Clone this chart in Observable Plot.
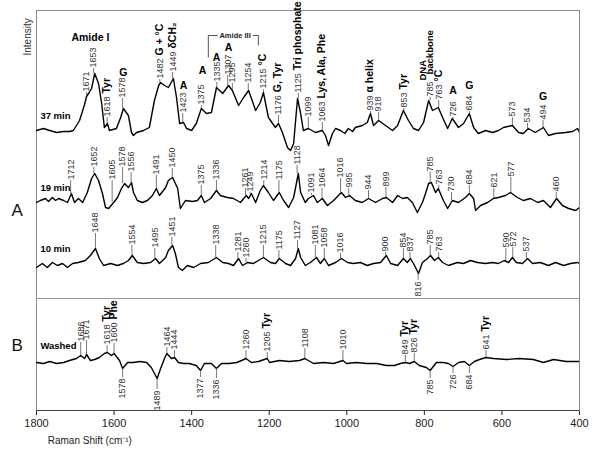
<!DOCTYPE html>
<html><head><meta charset="utf-8">
<script src="https://cdn.jsdelivr.net/npm/d3@7"></script>
<script src="https://cdn.jsdelivr.net/npm/@observablehq/plot@0.6"></script>
<style>body{margin:0;background:#fff} svg{font-family:"Liberation Sans",Arial,sans-serif}</style>
</head><body><div id="chart"></div>
<script>
// Spectra: [wavenumber cm-1, offset intensity (a.u.)]
const spec37 = [[1800,280],[1782,282],[1766,280],[1748,278],[1730,279],[1715,279],[1705,280],[1689,290],[1676,306],[1671,314],[1664,318],[1658,322],[1650,337],[1640,327],[1632,307],[1625,283],[1617,287],[1612,280],[1594,282],[1583,293],[1576,302],[1563,295],[1555,278],[1550,275],[1542,278],[1524,280],[1509,283],[1496,310],[1485,325],[1480,328],[1470,325],[1460,323],[1447,332],[1439,313],[1431,287],[1421,288],[1413,282],[1400,280],[1388,287],[1375,302],[1362,297],[1349,298],[1336,323],[1320,317],[1305,325],[1295,320],[1279,305],[1266,313],[1253,320],[1235,300],[1223,308],[1215,318],[1202,293],[1184,283],[1176,287],[1166,278],[1153,263],[1145,260],[1137,267],[1127,312],[1119,297],[1112,280],[1099,282],[1081,278],[1063,280],[1055,275],[1047,265],[1037,277],[1029,282],[1016,280],[1005,277],[996,282],[985,279],[978,283],[960,285],[947,288],[939,297],[931,285],[918,290],[900,285],[882,280],[869,285],[862,292],[854,300],[841,290],[828,282],[815,280],[802,288],[789,310],[779,300],[764,303],[753,293],[740,282],[728,292],[712,283],[699,287],[684,297],[673,283],[661,277],[642,280],[624,278],[609,280],[596,283],[573,285],[557,278],[545,277],[532,282],[514,278],[493,283],[480,275],[462,277],[436,278],[418,279],[405,282],[400,278]];
const spec19 = [[1800,208],[1790,210],[1777,212],[1769,209],[1759,213],[1751,210],[1743,212],[1730,210],[1720,208],[1710,217],[1702,208],[1692,212],[1681,208],[1669,218],[1658,232],[1650,237],[1640,230],[1630,217],[1622,203],[1614,202],[1601,208],[1591,213],[1581,222],[1573,227],[1563,223],[1555,228],[1550,218],[1540,210],[1527,208],[1514,210],[1501,215],[1491,222],[1483,215],[1467,223],[1460,230],[1449,233],[1436,222],[1429,202],[1416,210],[1398,209],[1385,210],[1375,215],[1367,208],[1351,212],[1336,220],[1326,215],[1308,213],[1292,212],[1274,208],[1266,212],[1259,215],[1253,212],[1246,217],[1235,208],[1223,220],[1215,225],[1202,218],[1189,210],[1174,218],[1163,210],[1150,203],[1137,213],[1125,237],[1119,218],[1107,208],[1099,212],[1086,215],[1076,208],[1063,212],[1050,205],[1034,210],[1014,218],[1003,213],[993,215],[978,210],[960,208],[944,212],[926,208],[908,212],[898,213],[882,208],[869,215],[856,212],[844,213],[831,208],[818,198],[805,208],[797,217],[789,227],[782,228],[771,218],[764,222],[751,210],[740,202],[728,210],[712,208],[694,213],[684,217],[673,212],[668,200],[655,205],[637,208],[622,212],[609,213],[591,215],[578,218],[560,213],[545,210],[526,212],[508,208],[493,210],[475,203],[459,212],[444,205],[428,202],[410,200],[400,203]];
const spec10 = [[1800,143],[1785,147],[1772,143],[1759,148],[1746,145],[1733,147],[1720,143],[1707,147],[1692,148],[1674,150],[1661,155],[1648,162],[1638,152],[1627,145],[1609,147],[1591,145],[1576,147],[1563,150],[1553,155],[1540,148],[1524,147],[1506,148],[1493,152],[1483,147],[1467,153],[1460,160],[1449,165],[1442,157],[1434,143],[1424,140],[1411,145],[1395,143],[1377,147],[1357,148],[1336,153],[1320,148],[1305,147],[1292,145],[1279,152],[1269,145],[1256,148],[1241,147],[1228,150],[1215,153],[1197,148],[1184,147],[1174,152],[1158,147],[1145,145],[1132,152],[1125,162],[1119,153],[1107,145],[1094,148],[1078,153],[1068,147],[1058,152],[1047,145],[1029,148],[1014,152],[998,148],[983,147],[965,148],[947,145],[931,147],[913,148],[898,155],[887,147],[869,145],[854,152],[844,148],[836,152],[828,147],[815,137],[805,148],[792,152],[784,155],[774,150],[764,153],[753,148],[738,145],[715,148],[699,147],[681,150],[663,148],[642,147],[624,148],[609,147],[594,150],[583,148],[573,153],[563,148],[547,147],[534,152],[521,147],[501,148],[480,145],[462,148],[441,145],[423,147],[405,148],[400,147]];
const specWashed = [[1800,48],[1782,47],[1766,49],[1748,47],[1730,48],[1715,50],[1697,52],[1686,55],[1676,52],[1671,56],[1661,50],[1650,51],[1638,53],[1625,57],[1617,58],[1607,55],[1600,57],[1586,50],[1578,42],[1565,48],[1550,48],[1534,49],[1516,48],[1504,43],[1489,32],[1480,42],[1470,52],[1464,57],[1452,52],[1444,53],[1434,48],[1421,47],[1406,47],[1388,45],[1377,40],[1367,47],[1349,47],[1336,42],[1323,47],[1302,47],[1284,48],[1271,50],[1260,52],[1246,48],[1228,49],[1205,52],[1199,48],[1174,50],[1148,49],[1122,50],[1108,52],[1086,47],[1060,48],[1034,47],[1010,50],[1001,47],[975,48],[949,47],[923,47],[898,45],[877,45],[862,47],[849,48],[838,47],[826,49],[813,45],[795,43],[785,40],[769,48],[751,48],[738,47],[726,44],[712,48],[697,49],[684,45],[671,49],[658,51],[641,53],[622,52],[588,51],[555,52],[519,51],[493,48],[467,51],[434,49],[400,49]];

// Peak labels: [wavenumber, peak intensity, label intensity, assignment]
const labels37 = [[1671,314,318,""],[1653,337,342,""],[1618,287,293,"Tyr"],[1578,302,312,""],[1482,328,331,"G + °C"],[1449,332,338,"δCH₂"],[1423,288,297,""],[1375,302,305,""],[1335,323,328,""],[1307,325,335,""],[1295,320,327,""],[1254,320,327,""],[1215,318,321,"°C"],[1176,287,295,"G, Tyr"],[1125,312,317,"Tri phosphate"],[1099,282,293,""],[1063,280,288,"Lys, Ala, Phe"],[939,297,299,"α helix"],[918,290,298,""],[853,300,302,"Tyr"],[785,310,313,""],[763,303,310,"°C"],[726,292,293,""],[684,297,299,""],[573,285,293,""],[534,282,287,""],[494,283,290,""]];
const labels19 = [[1712,217,230,""],[1652,237,243,""],[1605,208,230,""],[1578,227,243,""],[1556,228,238,""],[1491,222,235,""],[1450,233,242,""],[1375,215,225,""],[1336,220,230,""],[1261,215,222,""],[1249,216,218,""],[1214,225,230,""],[1175,218,230,""],[1128,237,245,""],[1091,215,217,""],[1064,212,222,""],[1016,218,232,""],[995,215,222,""],[944,212,220,""],[899,213,223,""],[785,228,238,""],[763,222,225,""],[730,210,218,""],[684,217,225,""],[621,212,222,""],[577,218,233,""],[460,212,218,""]];
const labels10 = [[1648,162,177,""],[1554,155,165,""],[1495,152,162,""],[1451,165,173,""],[1338,153,165,""],[1281,152,158,""],[1260,148,152,""],[1215,153,165,""],[1175,152,160,""],[1127,162,170,""],[1081,153,165,""],[1058,152,162,""],[1016,152,157,""],[900,155,158,""],[854,152,162,""],[837,152,158,""],[785,155,165,""],[763,153,158,""],[590,150,162,""],[572,153,163,""],[537,152,158,""]];
const labelsWashed = [[1686,55,68,""],[1671,56,70,""],[1618,58,65,"Tyr"],[1600,57,67,"Phe"],[1464,57,63,""],[1444,53,60,""],[1260,52,60,""],[1205,52,58,"Tyr"],[1108,52,62,""],[1010,50,60,""],[849,48,55,"Tyr"],[826,49,57,"Tyr"],[641,53,60,"Tyr"]];
// Negative bands (labels below): [wavenumber, dip intensity, label intensity]
const dips = [[816,137,130],[1578,42,33],[1489,32,21],[1377,40,33],[1336,42,32],[785,40,32],[726,44,37],[684,45,37]];

// Horizontal assignment letters: [wavenumber, intensity, text]
const tags = [[1661,373,"Amide I"],[1576,338,"G"],[1421,325,"A"],[1372,340,"A"],[1336,353,"A"],[1305,363,"A"],[726,320,"A"],[684,325,"G"],[494,314,"G"]];
// Rotated assignment words: [wavenumber, intensity, text]
const vtags = [[803,330,"DNA"],[785,336,"backbone"]];
const seriesNames = [["37 min",295],["19 min",223],["10 min",162],["Washed",65]];
const panelNames = [["A",200],["B",65]];
const xTicks = [1800,1600,1400,1200,1000,800,600,400];
const amide3 = {left:1357, right:1228, gapL:1333, gapR:1242, top:375, leftEnd:353, rightEnd:365, center:1288};
const separator = 112;

const lineData = [["37 min",spec37],["19 min",spec19],["10 min",spec10],["Washed",specWashed]]
  .flatMap(([s, pts]) => pts.map(([wn, v]) => ({s, wn, v})));
const up = [...labels37, ...labels19, ...labels10, ...labelsWashed].map(([wn,y0,y1,tag]) => ({wn,y0,y1,tag,num:String(wn)}));
const down = dips.map(([wn,y0,y1]) => ({wn,y0,y1,num:String(wn)}));

const bracket = [
  {x1:amide3.left,x2:amide3.gapL,y1:amide3.top,y2:amide3.top},
  {x1:amide3.gapR,x2:amide3.right,y1:amide3.top,y2:amide3.top},
  {x1:amide3.left,x2:amide3.left,y1:amide3.top,y2:amide3.leftEnd},
  {x1:amide3.right,x2:amide3.right,y1:amide3.top,y2:amide3.rightEnd}
];

const chart = Plot.plot({
  width: 600, height: 450,
  marginLeft: 36, marginRight: 21, marginTop: 10, marginBottom: 40,
  style: {fontFamily: "'Liberation Sans', Arial, sans-serif", fontSize: "11px", color: "#222"},
  x: {domain: [1800, 400], ticks: xTicks, tickFormat: d => String(d), tickSize: 5, label: null},
  y: {domain: [0, 400], axis: null},
  marks: [
    Plot.frame({stroke: "#8a8a8a"}),
    Plot.ruleY([0], {stroke: "#444"}),
    Plot.ruleY([separator], {stroke: "#999", strokeWidth: 1.2}),
    Plot.line(lineData, {x: "wn", y: "v", z: "s", stroke: "#000", strokeWidth: 1.4, clip: true}),
    Plot.ruleX(up, {x: "wn", y1: "y0", y2: "y1", stroke: "#555", strokeWidth: 0.8}),
    Plot.ruleX(down, {x: "wn", y1: "y0", y2: "y1", stroke: "#555", strokeWidth: 0.8}),
    Plot.text(up, {x: "wn", y: "y1", text: d => d.tag ? d.num + " " + d.tag : d.num, rotate: -90, textAnchor: "start", dy: -1, fontSize: 9, fill: "#333"}),
    Plot.text(down, {x: "wn", y: "y1", text: "num", rotate: -90, textAnchor: "end", dy: 1, fontSize: 9, fill: "#333"}),
    Plot.text(tags, {x: d => d[0], y: d => d[1], text: d => d[2], fontWeight: "bold", fontSize: 10.5, fill: "#000"}),
    Plot.text(vtags, {x: d => d[0], y: d => d[1], text: d => d[2], rotate: -90, textAnchor: "start", fontWeight: "bold", fontSize: 9.5, fill: "#000", ariaLabel: "vtags"}),
    Plot.link(bracket, {x1: "x1", x2: "x2", y1: "y1", y2: "y2", stroke: "#555", strokeWidth: 1}),
    Plot.text([["Amide III"]], {x: () => amide3.center, y: () => amide3.top, text: d => d[0], fontWeight: "bold", fontSize: 7.5, fill: "#222"}),
    Plot.text(seriesNames, {x: () => 1790, y: d => d[1], text: d => d[0], textAnchor: "start", fontWeight: "bold", fontSize: 9.5, fill: "#000"}),
    Plot.text(panelNames, {x: () => 1850, y: d => d[1], text: d => d[0], fontSize: 17, fill: "#111"}),
    Plot.text([["Intensity"]], {x: () => 1822, y: () => 355, text: d => d[0], rotate: -90, textAnchor: "start", fontSize: 10, fill: "#333"}),
    Plot.text([["Raman Shift (cm⁻¹)"]], {x: () => 1771, y: () => -30, text: d => d[0], textAnchor: "start", fontSize: 10, fill: "#222"})
  ]
});

// Style assignments in bold after the band number
const ns = "http://www.w3.org/2000/svg";
const tagged = new Map(up.filter(d => d.tag).map(d => [d.num + " " + d.tag, d]));
const vwords = new Set(vtags.map(d => d[2]));
chart.querySelectorAll("text").forEach(node => {
  if (vwords.has(node.textContent)) {
    const t = node.getAttribute("transform") || "";
    if (!/rotate/.test(t)) node.setAttribute("transform", t + " rotate(-90)");
    node.setAttribute("text-anchor", "start");
    return;
  }
  const d = tagged.get(node.textContent);
  if (!d) return;
  node.textContent = "";
  const a = document.createElementNS(ns, "tspan"); a.textContent = d.num; node.appendChild(a);
  const b = document.createElementNS(ns, "tspan"); b.textContent = " " + d.tag;
  b.setAttribute("style", "font-weight:bold;font-size:10.5px;fill:#000");
  node.appendChild(b);
});
document.getElementById("chart").appendChild(chart);
</script></body></html>
